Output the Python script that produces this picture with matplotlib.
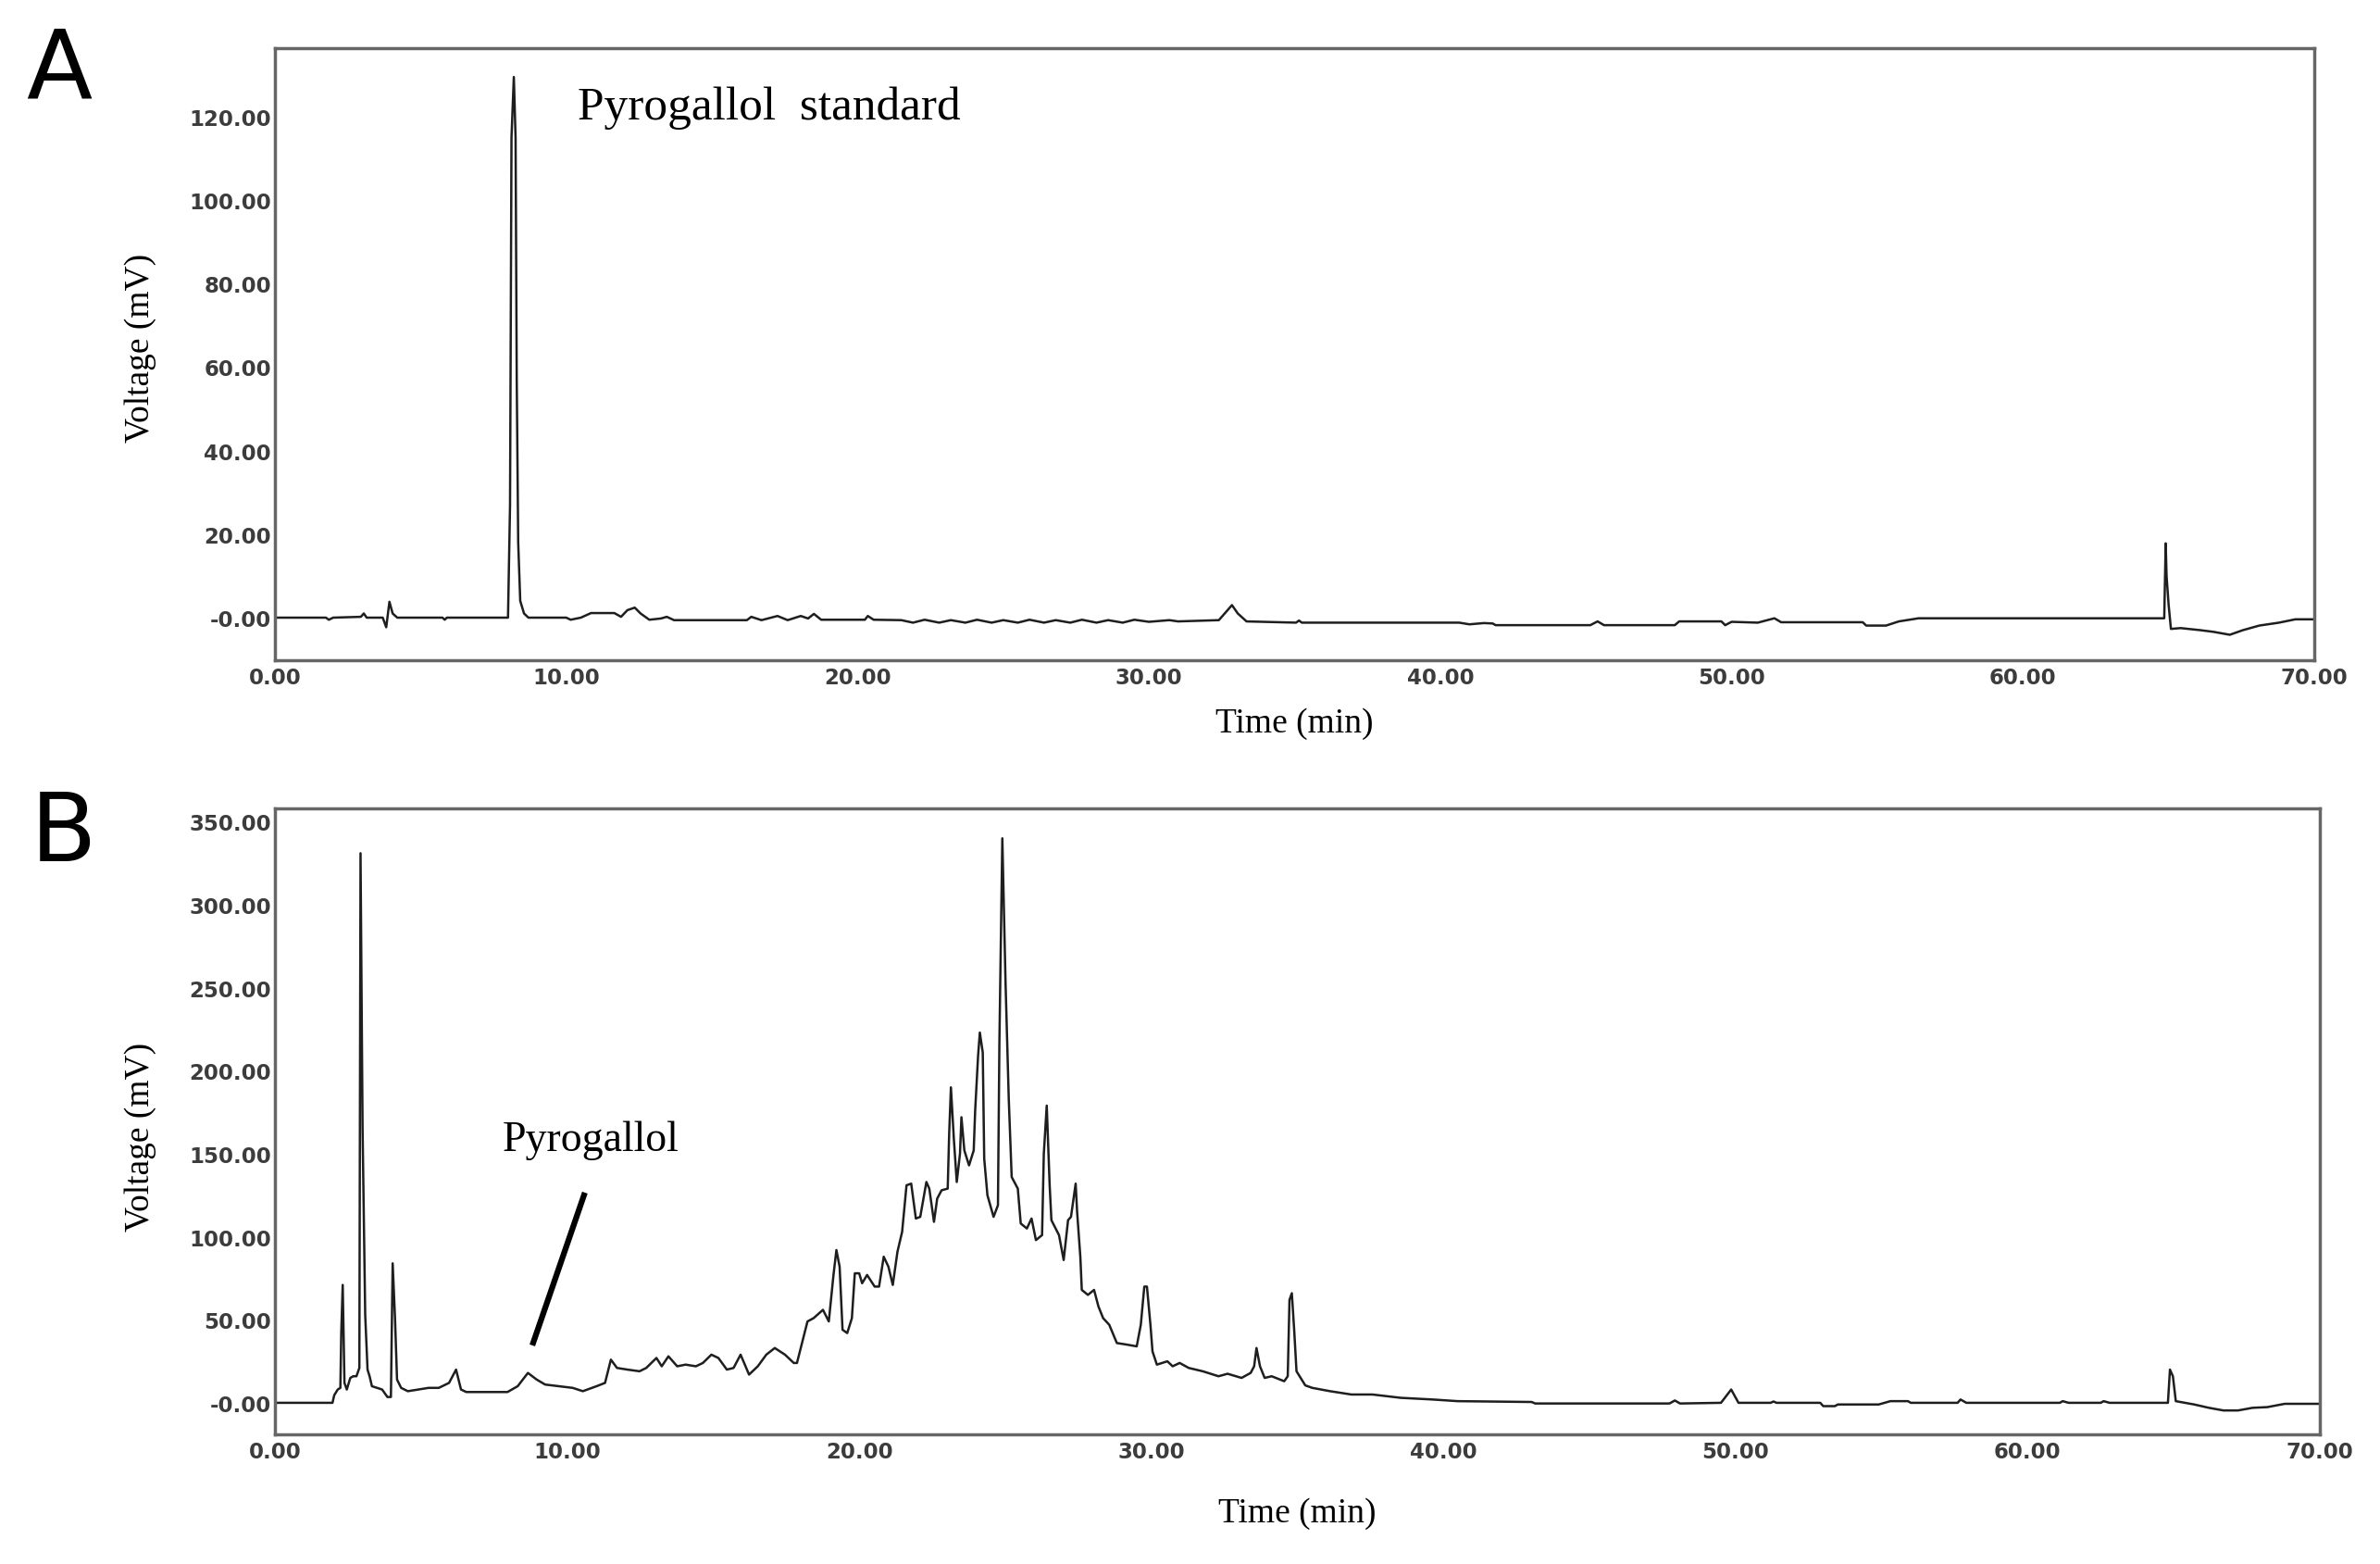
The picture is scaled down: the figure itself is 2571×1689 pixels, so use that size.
import numpy as np
import matplotlib.pyplot as plt
from matplotlib.ticker import FuncFormatter

# chromatogram A: pyrogallol standard (time in min, voltage in mV)
a_time = [0.0, 1.75, 1.85, 2.0, 2.95, 3.05, 3.15, 3.7, 3.82, 3.93, 4.04, 4.2,
          5.75, 5.83, 5.9, 8.0, 8.07, 8.12, 8.2, 8.26, 8.3, 8.35, 8.42, 8.55,
          8.7, 10.0, 10.15, 10.5, 10.85, 11.65, 11.88, 12.1, 12.35, 12.55, 12.85,
          13.25, 13.45, 13.7, 16.2, 16.35, 16.7, 17.25, 17.6, 18.05, 18.3, 18.5,
          18.75, 20.25, 20.35, 20.55, 21.5, 21.9, 22.3, 22.8, 23.2, 23.7, 24.1,
          24.6, 25.0, 25.5, 25.9, 26.4, 26.8, 27.3, 27.7, 28.2, 28.6, 29.1, 29.5,
          30.0, 30.7, 31.0, 32.4, 32.6, 32.85, 33.05, 33.35, 35.05, 35.15,
          35.25, 40.65, 41.0, 41.5, 41.8, 41.9, 45.15, 45.4, 45.62, 48.05,
          48.2, 49.65, 49.78, 50.0, 50.9, 51.47, 51.7, 54.5, 54.62, 55.3,
          55.74, 56.42, 64.85, 64.9, 64.93, 65.0, 65.08, 65.41, 66.09, 66.54,
          67.1, 67.55, 68.11, 68.79, 69.35, 70.0]
a_volt = [0.0, 0.0, -0.5, 0.0, 0.2, 1.0, 0.0, 0.0, -2.3, 3.8, 1.0, 0.0,
          0.0, -0.5, 0.0, 0.0, 27.0, 115.0, 129.5, 115.0, 57.0, 18.0, 4.0, 1.0,
          0.0, 0.0, -0.5, 0.0, 1.1, 1.1, 0.2, 1.8, 2.4, 1.0, -0.5,
          -0.2, 0.2, -0.6, -0.6, 0.2, -0.6, 0.4, -0.6, 0.4, -0.2, 0.9,
          -0.5, -0.5, 0.4, -0.5, -0.6, -1.2, -0.5, -1.2, -0.6, -1.2, -0.5,
          -1.2, -0.6, -1.2, -0.5, -1.2, -0.6, -1.2, -0.5, -1.2, -0.6, -1.2, -0.5,
          -1.0, -0.6, -0.9, -0.6, 1.0, 3.0, 1.0, -0.9, -1.2, -0.7,
          -1.2, -1.2, -1.6, -1.3, -1.4, -1.8, -1.8, -0.9, -1.8, -1.8,
          -0.9, -0.9, -1.8, -1.0, -1.2, -0.15, -1.1, -1.1, -1.9, -1.9,
          -0.9, -0.15, -0.15, 17.8, 10.0, 3.1, -2.7, -2.5, -3.0, -3.4,
          -4.1, -3.0, -1.9, -1.2, -0.4, -0.4]

# chromatogram B: sample extract
b_time = [0.0, 1.97, 2.03, 2.15, 2.24, 2.27, 2.32, 2.38, 2.46, 2.58, 2.68, 2.79,
          2.89, 2.93, 3.0, 3.09, 3.17, 3.24, 3.32, 3.5, 3.67, 3.85, 3.97, 4.03,
          4.11, 4.18, 4.32, 4.55, 4.9, 5.26, 5.61, 5.96, 6.2, 6.37, 6.55, 7.96,
          8.31, 8.66, 8.96, 9.25, 9.72, 10.19, 10.54, 11.01, 11.3, 11.5, 11.71,
          12.07, 12.48, 12.71, 13.06, 13.24, 13.47, 13.77, 14.06, 14.41, 14.65,
          14.94, 15.18, 15.47, 15.7, 15.94, 16.23, 16.53, 16.82, 17.11, 17.46,
          17.76, 17.87, 18.23, 18.44, 18.76, 18.96, 19.12, 19.22, 19.33, 19.43,
          19.59, 19.75, 19.85, 20.0, 20.1, 20.27, 20.53, 20.68, 20.84, 21.0,
          21.15, 21.31, 21.47, 21.62, 21.78, 21.94, 22.09, 22.3, 22.4, 22.56,
          22.67, 22.82, 23.03, 23.08, 23.14, 23.24, 23.34, 23.45, 23.5, 23.6,
          23.76, 23.92, 23.97, 24.07, 24.13, 24.23, 24.28, 24.39, 24.6, 24.75,
          24.8, 24.9, 25.01, 25.12, 25.22, 25.43, 25.53, 25.74, 25.9, 26.05,
          26.26, 26.32, 26.42, 26.52, 26.58, 26.84, 27.0, 27.15, 27.25, 27.41,
          27.46, 27.57, 27.62, 27.83, 28.04, 28.19, 28.35, 28.56, 28.82, 29.18,
          29.5, 29.64, 29.76, 29.85, 29.97, 30.04, 30.19, 30.55, 30.73, 30.97,
          31.28, 31.76, 32.3, 32.61, 33.09, 33.4, 33.52, 33.6, 33.72, 33.88,
          34.12, 34.55, 34.67, 34.73, 34.81, 34.89, 34.97, 35.27, 35.51, 36.12,
          36.85, 37.57, 38.54, 39.63, 40.48, 43.02, 43.14, 47.74, 47.92, 48.1,
          49.5, 49.85, 50.1, 51.2, 51.3, 51.4, 52.9, 53.0, 53.4, 53.5, 54.9,
          55.3, 55.9, 56.0, 57.6, 57.7, 57.9, 58.2, 61.1, 61.2, 61.4, 62.5,
          62.6, 62.8, 64.8, 64.87, 64.97, 65.07, 65.7, 66.2, 66.7, 67.2, 67.7,
          68.2, 68.8, 70.0]
b_volt = [0.0, 0.0, 4.6, 8.0, 9.0, 42.0, 71.0, 12.0, 8.0, 15.0, 16.0, 16.0,
          21.0, 331.0, 165.0, 53.0, 20.0, 16.0, 10.0, 9.0, 8.0, 3.5, 3.5, 84.0,
          51.0, 14.0, 9.0, 7.0, 8.0, 9.0, 9.0, 12.0, 20.0, 8.0, 6.5, 6.5,
          10.0, 18.0, 14.0, 11.0, 10.0, 9.0, 7.0, 10.0, 12.0, 26.0, 21.0,
          20.0, 19.0, 21.0, 27.0, 22.0, 28.0, 22.0, 23.0, 22.0, 24.0,
          29.0, 27.0, 20.0, 21.0, 29.0, 17.0, 22.0, 29.0, 33.0, 29.0,
          24.0, 24.0, 49.0, 51.0, 56.0, 49.0, 77.0, 92.0, 82.0, 44.0,
          42.0, 51.0, 78.0, 78.0, 72.0, 77.0, 70.0, 70.0, 88.0, 82.0,
          71.0, 91.0, 103.0, 131.0, 132.0, 111.0, 112.0, 133.0, 129.0, 109.0,
          123.0, 128.0, 129.0, 162.0, 190.0, 159.0, 133.0, 150.0, 172.0, 152.0,
          143.0, 152.0, 176.0, 209.0, 223.0, 211.0, 147.0, 125.0, 112.0, 119.0,
          218.0, 340.0, 253.0, 183.0, 136.0, 129.0, 108.0, 105.0, 111.0, 98.0,
          101.0, 150.0, 179.0, 131.0, 110.0, 101.0, 86.0, 110.0, 112.0, 132.0,
          115.0, 88.0, 68.0, 65.0, 68.0, 58.0, 51.0, 47.0, 36.0, 35.0,
          34.0, 47.0, 70.0, 70.0, 47.0, 31.0, 23.0, 25.0, 22.0, 24.0,
          21.0, 19.0, 16.0, 17.5, 15.0, 18.0, 22.0, 33.0, 22.0, 15.0,
          16.0, 13.0, 16.0, 62.0, 66.0, 44.0, 19.0, 10.5, 9.0, 7.0,
          5.0, 5.0, 3.0, 2.0, 1.0, 0.5, -0.4, -0.4, 1.4, -0.4,
          0.0, 8.0, 0.0, 0.0, 0.8, 0.0, 0.0, -2.0, -2.0, -1.0, -1.0,
          1.0, 1.0, 0.0, 0.0, 2.0, 0.0, 0.0, 0.0, 1.0, 0.0, 0.0,
          1.0, 0.0, 0.0, 20.0, 16.0, 1.0, -1.0, -3.0, -4.6, -4.6, -3.0,
          -2.6, -0.6, -0.6]

x_ticks = [0, 10, 20, 30, 40, 50, 60, 70]
a_yticks = [0, 20, 40, 60, 80, 100, 120]
b_yticks = [0, 50, 100, 150, 200, 250, 300, 350]

W, H = 2571, 1690
fig = plt.figure(figsize=(W / 100, H / 100), dpi=100)

ax1 = fig.add_axes([297 / W, 1 - 714 / H, 2203 / W, 661 / H])
ax2 = fig.add_axes([297 / W, 1 - 1550 / H, 2209 / W, 676 / H])

line_col = '#1e1e1e'
ax1.plot(a_time, a_volt, color=line_col, lw=1.8)
ax2.plot(b_time, b_volt, color=line_col, lw=1.8)

ax1.set_ylim(-10.2, 136.4)
ax2.set_ylim(-19, 358)


def fmt_y(v, pos):
    if v == 0:
        return '-0.00'
    return '%.2f' % v


for ax, yt in [(ax1, a_yticks), (ax2, b_yticks)]:
    ax.set_xlim(0, 70)
    ax.set_xticks(x_ticks)
    ax.set_yticks(yt)
    ax.xaxis.set_major_formatter(FuncFormatter(lambda v, p: '%.2f' % v))
    ax.yaxis.set_major_formatter(FuncFormatter(fmt_y))
    ax.tick_params(length=0, labelsize=16.5, labelcolor='#3c3c3c')
    ax.tick_params(axis='x', pad=5)
    ax.tick_params(axis='y', pad=3)
    for lab in ax.get_xticklabels() + ax.get_yticklabels():
        lab.set_fontweight('bold')
        lab.set_family('DejaVu Sans')
    for s in ax.spines.values():
        s.set_color('#666666')
        s.set_linewidth(2.5)
    ax.set_xlabel('Time (min)', family='Liberation Serif', fontsize=27)
    ax.set_ylabel('Voltage (mV)', family='Liberation Serif', fontsize=27)

ax1.xaxis.set_label_coords(0.5, -0.0756)
ax2.xaxis.set_label_coords(0.5, -0.099)
ax1.yaxis.set_label_coords(-0.058, 0.511)
ax2.yaxis.set_label_coords(-0.058, 0.476)

ax1.text(10.4, 119.5, 'Pyrogallol  standard', family='Liberation Serif',
         fontsize=37, ha='left', va='baseline')
ax2.text(7.8, 152, 'Pyrogallol', family='Liberation Serif',
         fontsize=33, ha='left', va='baseline')
ax2.plot([10.61, 8.81], [126.6, 34.6], color='black', lw=4.5,
         solid_capstyle='butt')

fig.text(28 / W, 1 - 106 / H, 'A', fontsize=75, family='DejaVu Sans',
         ha='left', va='baseline')
fig.text(33 / W, 1 - 930 / H, 'B', fontsize=75, family='DejaVu Sans',
         ha='left', va='baseline')

fig.savefig('out.png', dpi=100)
